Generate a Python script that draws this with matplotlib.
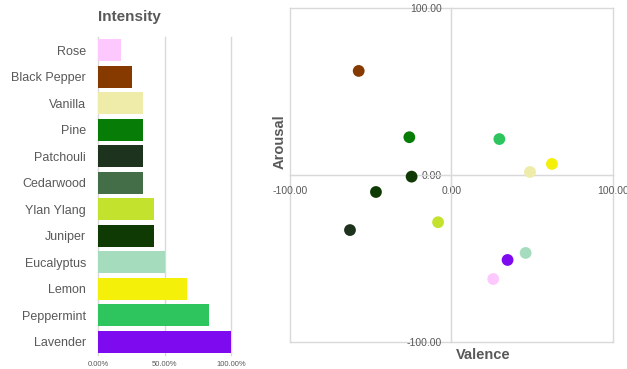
import matplotlib
matplotlib.use("Agg")
import matplotlib.pyplot as plt
from matplotlib.ticker import FuncFormatter

plt.rcParams['font.family'] = ['Liberation Sans', 'DejaVu Sans']

# data
oils = ["Rose", "Black Pepper", "Vanilla", "Pine", "Patchouli", "Cedarwood",
        "Ylan Ylang", "Juniper", "Eucalyptus", "Lemon", "Peppermint", "Lavender"]
intensity = [16.67, 25.0, 33.33, 33.33, 33.33, 33.33,
             41.67, 41.67, 50.0, 66.67, 83.33, 100.0]
colors = ["#FDC8FD", "#863A00", "#EEECA8", "#077D07", "#1E331E", "#436E47",
          "#C2E22E", "#0F3A04", "#A6DCBE", "#F5F00A", "#2EC55E", "#7E0AEF"]

valence = [26.0, -57.4, 48.8, -26.0, -62.8, -46.7,
           -8.2, -24.6, 46.1, 62.4, 29.8, 34.9]
arousal = [-62.1, 62.5, 2.0, 22.8, -32.8, -10.0,
           -28.1, -0.8, -46.5, 6.8, 21.7, -50.7]
point_colors = ["#FDC8FD", "#863A00", "#EEECA8", "#077D07", "#1E331E", "#0F3A04",
                "#C2E22E", "#0F3A04", "#A6DCBE", "#F5F00A", "#2EC55E", "#7E0AEF"]

text_col = "#595959"
grid_col = "#D9D9D9"

fig = plt.figure(figsize=(6.27, 3.69), dpi=100)

# bar chart
ax1 = fig.add_axes([0.157, 0.038, 0.212, 0.862])
ypos = list(range(len(oils)))
ax1.barh(ypos, intensity, height=0.83, color=colors, zorder=3)
ax1.set_ylim(len(oils) - 0.5, -0.5)
ax1.set_xlim(0, 100)
ax1.set_yticks(ypos)
ax1.set_yticklabels(oils, fontsize=9, color=text_col)
ax1.set_xticks([0, 50, 100])
ax1.xaxis.set_major_formatter(FuncFormatter(lambda v, p: f"{v:.2f}%"))
ax1.tick_params(axis='x', labelsize=5.5, colors=text_col, length=0, pad=4)
ax1.tick_params(axis='y', length=0, pad=9)
ax1.grid(axis='x', color=grid_col, linewidth=1.0, zorder=0)
for gl in ax1.get_xgridlines():
    gl.set_clip_on(False)
for s in ax1.spines.values():
    s.set_visible(False)
fig.text(0.157, 0.955, "Intensity", fontsize=11, fontweight='bold',
         color=text_col, ha='left', va='center')

# scatter chart
ax2 = fig.add_axes([0.4625, 0.0724, 0.5145, 0.9051])
ax2.scatter(valence, arousal, s=72, c=point_colors, zorder=3, linewidths=0)
ax2.set_xlim(-100, 100)
ax2.set_ylim(-100, 100)
ax2.set_xticks([-100, 0, 100])
ax2.set_yticks([-100, 0, 100])
fmt = FuncFormatter(lambda v, p: f"{v:.2f}")
ax2.xaxis.set_major_formatter(fmt)
ax2.yaxis.set_major_formatter(fmt)
ax2.spines['left'].set_position(('data', 0))
ax2.spines['bottom'].set_position(('data', 0))
ax2.spines['right'].set_visible(False)
ax2.spines['top'].set_visible(False)
ax2.spines['left'].set_color(grid_col)
ax2.spines['bottom'].set_color(grid_col)
ax2.tick_params(labelsize=7.5, colors=text_col, length=0)
ax2.tick_params(axis='x', pad=8)
ax2.tick_params(axis='y', pad=7)
ax2.grid(True, color=grid_col, linewidth=1.0, zorder=0)
for gl in ax2.get_xgridlines() + ax2.get_ygridlines():
    gl.set_clip_on(False)

fig.text(0.446, 0.615, "Arousal", fontsize=10.5, fontweight='bold',
         color=text_col, rotation=90, ha='center', va='center')
fig.text(0.770, 0.038, "Valence", fontsize=10.5, fontweight='bold',
         color=text_col, ha='center', va='center')

fig.savefig("out.png", dpi=100)
